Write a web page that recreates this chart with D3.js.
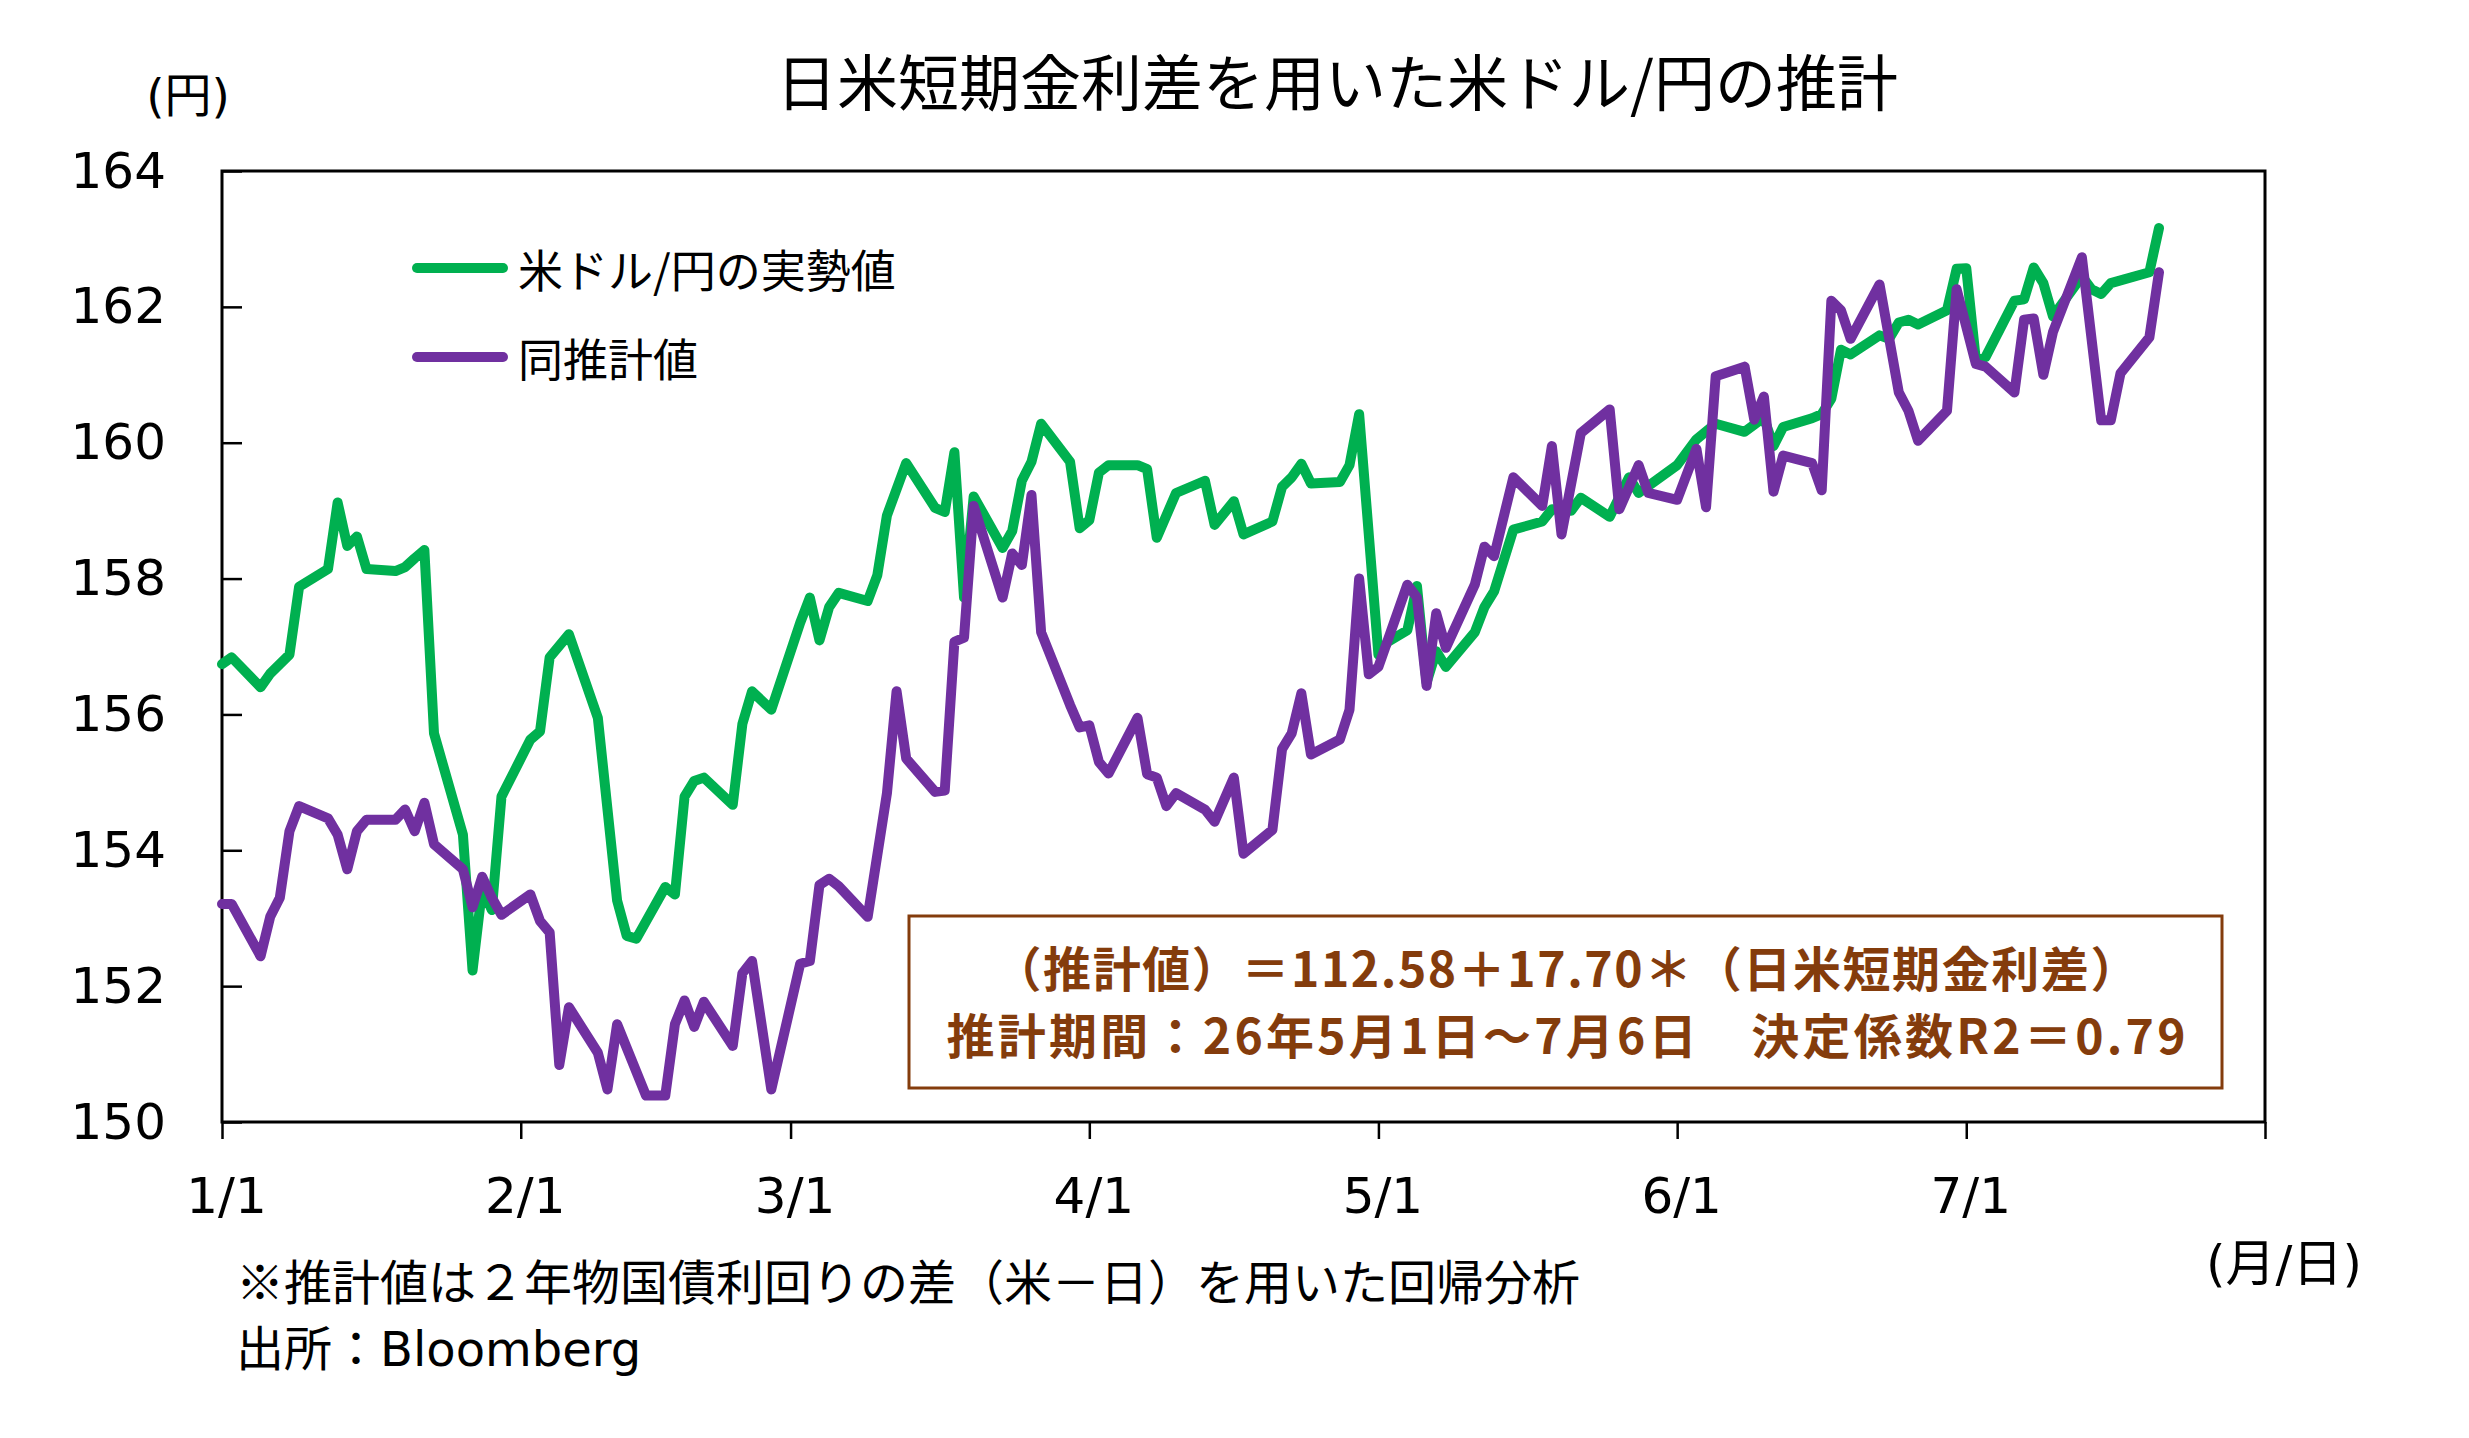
<!DOCTYPE html>
<html>
<head>
<meta charset="utf-8">
<script src="https://cdn.jsdelivr.net/npm/d3@7"></script>
<style>
  body { margin: 0; background: #fff; }
  svg { display: block; }
</style>
</head>
<body>
<svg width="2469" height="1438"></svg>
<script>
// 米ドル/円の実勢値 (date M/D, 2026)
var actualDates = ["1/1","1/2","1/5","1/6","1/7","1/8","1/9","1/12","1/13","1/14","1/15","1/16","1/19","1/20","1/21","1/22","1/23",
  "1/26","1/27","1/28","1/29","1/30","2/2","2/3","2/4","2/6","2/9","2/11","2/12","2/13","2/16","2/17","2/18","2/19","2/20",
  "2/23","2/24","2/25","2/27","3/2","3/3","3/4","3/5","3/6","3/9","3/10","3/11","3/13","3/16","3/17","3/18","3/19","3/20",
  "3/23","3/24","3/25","3/26","3/27","3/30","3/31","4/1","4/2","4/3","4/6","4/7","4/8","4/10","4/13","4/14","4/16","4/17",
  "4/20","4/21","4/22","4/23","4/24","4/27","4/28","4/29","5/1","5/2","5/4","5/5","5/6","5/7","5/8","5/11","5/12","5/13",
  "5/15","5/18","5/19","5/21","5/22","5/25","5/27","5/28","6/1","6/3","6/5","6/8","6/10","6/11","6/12","6/15","6/16","6/17",
  "6/18","6/19","6/22","6/23","6/24","6/25","6/26","6/29","6/30","7/1","7/2","7/3","7/6","7/7","7/8","7/9","7/10","7/13",
  "7/14","7/15","7/16","7/20","7/21"];
var actualValues = [156.74,156.84,156.40,156.60,156.74,156.88,157.88,158.14,159.12,158.48,158.62,158.14,158.11,158.17,158.30,158.42,155.72,
  154.23,152.23,153.44,153.12,154.79,155.63,155.75,156.84,157.18,155.95,153.26,152.74,152.70,153.46,153.35,154.79,155.02,155.07,
  154.67,155.86,156.34,156.07,157.35,157.72,157.09,157.58,157.79,157.67,158.05,158.93,159.70,159.04,158.98,159.86,157.72,159.21,
  158.45,158.70,159.44,159.72,160.28,159.72,158.74,158.86,159.56,159.67,159.67,159.61,158.60,159.26,159.44,158.79,159.14,158.65,
  158.84,159.35,159.49,159.69,159.40,159.42,159.67,160.42,156.88,157.07,157.24,157.89,156.47,156.93,156.70,157.21,157.58,157.81,
  158.72,158.84,159.02,159.00,159.19,158.91,159.49,159.26,159.67,160.05,160.28,160.16,160.37,159.95,160.23,160.36,160.42,160.65,
  161.37,161.30,161.58,161.53,161.77,161.81,161.74,161.95,162.56,162.57,161.21,161.26,162.09,162.11,162.58,162.35,161.86,162.45,
  162.26,162.19,162.35,162.51,163.16];

// 同推計値
var estDates = ["1/1","1/2","1/5","1/6","1/7","1/8","1/9","1/12","1/13","1/14","1/15","1/16","1/19","1/20","1/21","1/22","1/23",
  "1/26","1/27","1/28","1/29","1/30","2/2","2/3","2/4","2/5","2/6","2/9","2/10","2/11","2/14","2/16","2/17","2/18","2/19","2/20",
  "2/23","2/24","2/25","2/27","3/2","3/3","3/4","3/5","3/6","3/9","3/11","3/12","3/13","3/16","3/17","3/18","3/19","3/20",
  "3/23","3/24","3/25","3/26","3/27","3/30","3/31","4/1","4/2","4/3","4/6","4/7","4/8","4/9","4/10","4/13","4/14","4/16","4/17",
  "4/20","4/21","4/22","4/23","4/24","4/27","4/28","4/29","4/30","5/1","5/4","5/5","5/6","5/7","5/8","5/11","5/12","5/13",
  "5/15","5/18","5/19","5/20","5/22","5/25","5/26","5/28","5/29","6/1","6/3","6/4","6/5","6/8","6/9","6/10","6/11","6/12",
  "6/15","6/16","6/17","6/18","6/19","6/22","6/24","6/25","6/26","6/29","6/30","7/2","7/3","7/6","7/7","7/8","7/9","7/10",
  "7/13","7/15","7/16","7/17","7/20","7/21"];
var estValues = [153.21,153.21,152.44,153.02,153.30,154.28,154.65,154.47,154.23,153.72,154.28,154.45,154.45,154.60,154.28,154.70,154.09,
  153.72,153.16,153.61,153.30,153.05,153.35,152.96,152.79,150.84,151.69,151.02,150.48,151.44,150.39,150.39,151.44,151.79,151.40,151.77,
  151.12,152.19,152.37,150.48,152.33,152.37,153.49,153.58,153.47,153.02,154.84,156.34,155.35,154.86,154.88,157.07,157.13,159.07,
  157.72,158.37,158.20,159.23,157.21,156.14,155.81,155.84,155.30,155.13,155.95,155.12,155.07,154.65,154.84,154.60,154.42,155.07,153.95,
  154.30,155.49,155.72,156.31,155.41,155.63,156.07,158.00,156.59,156.70,157.91,157.72,156.42,157.49,156.98,157.91,158.47,158.33,
  159.49,159.07,159.95,158.65,160.14,160.49,159.02,159.67,159.26,159.16,159.91,159.05,160.98,161.12,160.34,160.68,159.28,159.81,
  159.70,159.30,162.09,161.95,161.53,162.33,160.74,160.47,160.03,160.47,162.26,161.16,161.12,160.74,161.81,161.83,161.00,161.63,
  162.73,160.33,160.33,161.02,161.55,162.51];

var yTicks = [150, 152, 154, 156, 158, 160, 162, 164];
var monthTicks = ["1/1","2/1","3/1","4/1","5/1","6/1","7/1","8/1"];
var seriesNames = ["米ドル/円の実勢値", "同推計値"];
var formulaLines = ["（推計値）＝112.58＋17.70＊（日米短期金利差）",
                    "推計期間：26年5月1日～7月6日　決定係数R2＝0.79"];

var YEAR = 2026;
function parseMD(s) {
    var p = s.split("/");
    return new Date(Date.UTC(YEAR, +p[0] - 1, +p[1]));
}

var green = "#00B050", purple = "#7030A0", brown = "#843C0C";
var jpFont = "'Noto Sans CJK JP', sans-serif";
var mixFont = "'DejaVu Sans', 'Noto Sans CJK JP', sans-serif";

var svg = d3.select("svg"),
    margin = {top: 171, right: 204, bottom: 316, left: 222},
    width = +svg.attr("width") - margin.left - margin.right,
    height = +svg.attr("height") - margin.top - margin.bottom,
    g = svg.append("g").attr("transform", "translate(" + margin.left + "," + margin.top + ")");

var x = d3.scaleUtc()
    .domain([parseMD("1/1"), parseMD("8/1")])
    .range([0, width]);

var y = d3.scaleLinear()
    .domain([150, 164])
    .range([height, 0]);

var actual = actualDates.map(function(d, i) { return {date: parseMD(d), value: actualValues[i]}; });
var est = estDates.map(function(d, i) { return {date: parseMD(d), value: estValues[i]}; });

var line = d3.line()
    .x(function(d) { return x(d.date); })
    .y(function(d) { return y(d.value); });

// x axis, ticks pointing down
var xAxis = g.append("g")
    .attr("class", "axis axis--x")
    .attr("transform", "translate(0," + height + ")")
    .call(d3.axisBottom(x)
        .tickValues(monthTicks.map(parseMD))
        .tickSize(17)
        .tickPadding(38)
        .tickFormat(function(d) {
            var m = d.getUTCMonth() + 1;
            return m === 8 ? "" : m + "/" + d.getUTCDate();
        }));
xAxis.select(".domain").remove();
xAxis.selectAll("line").attr("stroke", "#000").attr("stroke-width", 2.5);
xAxis.selectAll("text")
    .attr("font-family", mixFont)
    .attr("font-size", 50)
    .attr("fill", "#000")
    .attr("dx", 4);

// y axis, ticks pointing in
var yAxis = g.append("g")
    .attr("class", "axis axis--y")
    .call(d3.axisLeft(y)
        .tickValues(yTicks)
        .tickSize(-20)
        .tickPadding(56));
yAxis.select(".domain").remove();
yAxis.selectAll("line").attr("stroke", "#000").attr("stroke-width", 2.5);
yAxis.selectAll("text")
    .attr("font-family", mixFont)
    .attr("font-size", 50)
    .attr("fill", "#000");

// plot frame
g.append("rect")
    .attr("x", 0).attr("y", 0)
    .attr("width", width).attr("height", height)
    .attr("fill", "none")
    .attr("stroke", "#000")
    .attr("stroke-width", 3);

g.append("path")
    .datum(actual)
    .attr("fill", "none")
    .attr("stroke", green)
    .attr("stroke-width", 10)
    .attr("stroke-linejoin", "round")
    .attr("stroke-linecap", "round")
    .attr("d", line);

g.append("path")
    .datum(est)
    .attr("fill", "none")
    .attr("stroke", purple)
    .attr("stroke-width", 10)
    .attr("stroke-linejoin", "round")
    .attr("stroke-linecap", "round")
    .attr("d", line);

// legend
var legend = svg.append("g").attr("transform", "translate(417,268)");
[green, purple].forEach(function(c, i) {
    var row = legend.append("g").attr("transform", "translate(0," + (i * 89) + ")");
    row.append("line")
        .attr("x1", 0).attr("x2", 86)
        .attr("stroke", c).attr("stroke-width", 10)
        .attr("stroke-linecap", "round");
    row.append("text")
        .attr("x", 101).attr("y", 0)
        .attr("dominant-baseline", "central")
        .attr("font-family", jpFont)
        .attr("font-size", 45)
        .text(seriesNames[i]);
});

// regression note box
svg.append("rect")
    .attr("x", 909).attr("y", 916)
    .attr("width", 1313).attr("height", 172)
    .attr("fill", "#fff")
    .attr("stroke", brown)
    .attr("stroke-width", 3);

svg.selectAll(".formula")
    .data(formulaLines)
  .enter().append("text")
    .attr("class", "formula")
    .attr("x", 1566)
    .attr("y", function(d, i) { return 966 + i * 67; })
    .attr("text-anchor", "middle")
    .attr("dominant-baseline", "central")
    .attr("font-family", jpFont)
    .attr("font-weight", "bold")
    .attr("font-size", 48)
    .attr("fill", brown)
    .attr("textLength", function(d, i) { return i === 0 ? 1145 : 1239; })
    .attr("lengthAdjust", "spacing")
    .text(function(d) { return d; });

// titles and notes
svg.append("text")
    .attr("x", 1337).attr("y", 79)
    .attr("text-anchor", "middle")
    .attr("dominant-baseline", "central")
    .attr("font-family", jpFont)
    .attr("font-size", 61)
    .text("日米短期金利差を用いた米ドル/円の推計");

svg.append("text")
    .attr("x", 188).attr("y", 95)
    .attr("text-anchor", "middle")
    .attr("dominant-baseline", "central")
    .attr("font-family", mixFont)
    .attr("font-size", 47)
    .text("(円)");

svg.append("text")
    .attr("x", 2284).attr("y", 1264)
    .attr("text-anchor", "middle")
    .attr("dominant-baseline", "central")
    .attr("font-family", mixFont)
    .attr("font-size", 50)
    .text("(月/日)");

svg.append("text")
    .attr("x", 236).attr("y", 1279)
    .attr("dominant-baseline", "central")
    .attr("font-family", jpFont)
    .attr("font-size", 48)
    .text("※推計値は２年物国債利回りの差（米－日）を用いた回帰分析");

svg.append("text")
    .attr("x", 236).attr("y", 1349)
    .attr("dominant-baseline", "central")
    .attr("font-family", mixFont)
    .attr("font-size", 48)
    .text("出所：Bloomberg");
</script>
</body>
</html>
